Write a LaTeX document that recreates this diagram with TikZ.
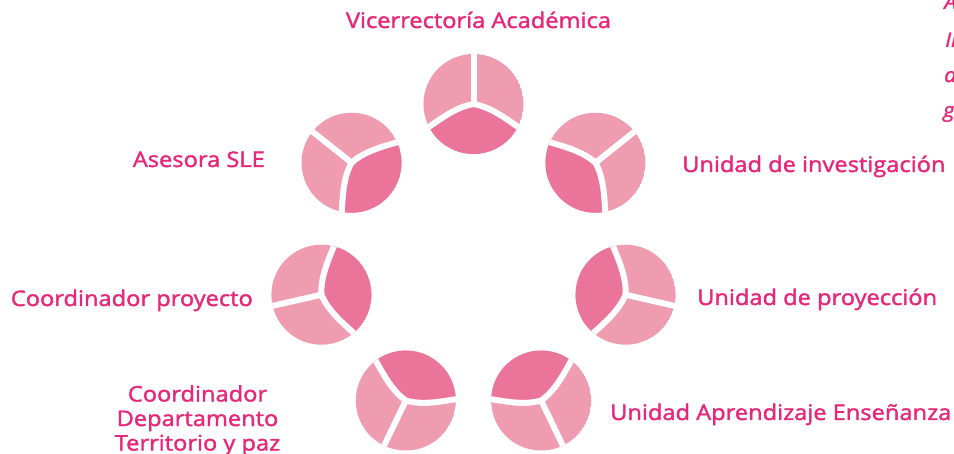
\documentclass[tikz,border=0pt]{standalone}
\usepackage{fontspec}
\setmainfont{Open Sans}[FakeStretch=1.1, FakeBold=1.7]
\definecolor{rosa}{HTML}{E6287A}
\definecolor{petalo}{HTML}{EF9BB0}
\definecolor{petalofuerte}{HTML}{EB759A}
\tikzset{
  rotulo/.style={text=rosa, font=\fontsize{21.5}{24.5}\selectfont, inner sep=0pt},
  margen/.style={rotulo, font=\fontsize{20}{24.5}\selectfont\itshape, anchor=base west},
  hueco/.style={white, line width=6pt},
}

\begin{document}
\begin{tikzpicture}[x=1pt, y=1pt]
  \useasboundingbox (0,0) rectangle (954,-454);
  % siete circulos en anillo, el sector fuerte mira al centro
  \begin{scope}[shift={(473.5,-260)}]
    \foreach \i in {0,...,6} {
      \pgfmathsetmacro{\a}{90+\i*360/7}
      \begin{scope}[shift={(\a:156)}, rotate=\a+180]
        \clip (0,0) circle (50);
        \fill[petalo] (0,0) circle (50);
        \fill[petalofuerte] (0,0) .. controls (80:18) and (66:35) .. (62:55)
          arc (62:-62:55) .. controls (-66:35) and (-80:18) .. (0,0);
        \draw[hueco] (0,0) .. controls (80:18) and (66:35) .. (62:55);
        \draw[hueco] (0,0) .. controls (-80:18) and (-66:35) .. (-62:55);
        \draw[hueco] (0,0) -- (180:55);
      \end{scope}
    }
  \end{scope}
  \node[rotulo, anchor=base] (vice) at (478.5,-28) {Vicerrectoría Académica};
  \node[rotulo, anchor=base west] (inves) at (682,-172) {Unidad de investigación};
  \node[rotulo, anchor=base west] (proye) at (697,-305) {Unidad de proyección};
  \node[rotulo, anchor=base west] (apren) at (610,-420) {Unidad Aprendizaje Enseñanza};
  \node[rotulo, anchor=base east] (asesora) at (265,-167) {Asesora SLE};
  \node[rotulo, anchor=base east] (coordp) at (253,-306) {Coordinador proyecto};
  \node[rotulo, anchor=north, align=center] (coordd) at (197.5,-385)
    {Coordinador\\Departamento\\Territorio y paz};
  % texto cortado en el borde derecho
  \node[margen] (m1) at (944,-9) {A};
  \node[margen] (m2) at (945,-47) {In};
  \node[margen] (m3) at (944,-82) {a};
  \node[margen] (m4) at (943,-117) {g};
\end{tikzpicture}
\end{document}
